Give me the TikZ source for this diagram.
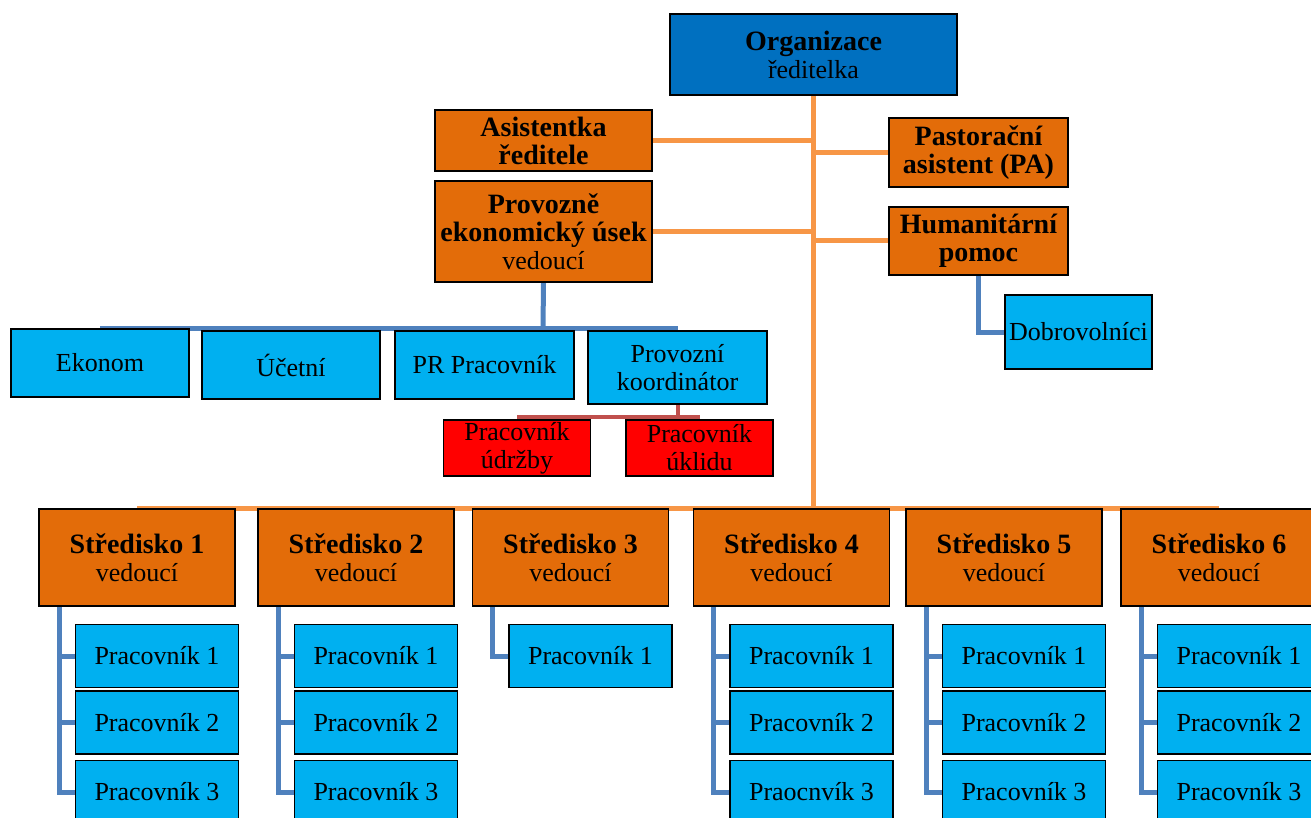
\documentclass[tikz,border=0pt]{standalone}
\usepackage{fontspec}
\setmainfont{Liberation Serif}
\usetikzlibrary{calc}
\usetikzlibrary{positioning}
\usetikzlibrary{backgrounds}

\definecolor{dirblue}{HTML}{0070C0}
\definecolor{headorange}{HTML}{E36C09}
\definecolor{linkorange}{HTML}{F79646}
\definecolor{staffblue}{HTML}{00B0F0}
\definecolor{linkblue}{HTML}{4F81BD}
\definecolor{linkred}{HTML}{C0504D}

\newcommand{\ttl}[1]{{\fontsize{14}{14}\selectfont\bfseries #1}}

\tikzset{
  unit/.style={draw=black, line width=0.6pt, align=center, inner sep=0pt,
    font=\fontsize{13}{14}\selectfont},
  topbox/.style={unit, fill=dirblue, minimum width=143.5pt, minimum height=40.5pt},
  headbox/.style={unit, fill=headorange, minimum width=108.5pt},
  sidebox/.style={unit, fill=headorange, minimum width=89.5pt},
  staffbox/.style={unit, fill=staffblue, minimum width=89pt, minimum height=34pt},
  redbox/.style={unit, fill=red, minimum width=73.5pt, minimum height=28pt},
  centrebox/.style={unit, fill=headorange, minimum width=98pt, minimum height=48.5pt},
  workerbox/.style={unit, fill=staffblue, minimum width=81.5pt, minimum height=31.5pt},
  orangelink/.style={draw=linkorange, line width=2.5pt},
  bluelink/.style={draw=linkblue, line width=2.5pt},
  redlink/.style={draw=linkred, line width=2pt}
}

\begin{document}
\begin{tikzpicture}[x=0.5pt, y=-0.5pt]
  \useasboundingbox (0,0) rectangle (1311,818);

  % vedeni
  \node[topbox] (org) at (813.5,54.5) {\ttl{Organizace}\\ ředitelka};
  \node[headbox, minimum height=30.5pt] (asist) at (543.5,140.5) {\ttl{Asistentka}\\ \ttl{ředitele}};
  \node[headbox, minimum height=50.5pt] (provoz) at (543.5,231.5) {\ttl{Provozně}\\ \ttl{ekonomický úsek}\\ vedoucí};
  \node[sidebox, minimum height=34.5pt] (pasto) at (978.5,152.5) {\ttl{Pastorační}\\ \ttl{asistent (PA)}};
  \node[sidebox, minimum height=34pt] (human) at (978.5,241) {\ttl{Humanitární}\\ \ttl{pomoc}};
  \node[staffbox, minimum width=73.5pt, minimum height=37pt] (dobro) at (1078.5,332) {Dobrovolníci};

  % provozne ekonomicky usek
  \node[staffbox] (ekonom) at (100,363) {Ekonom};
  \node[staffbox] (ucetni) at (291,365) {Účetní};
  \node[staffbox, minimum width=89.5pt] (prprac) at (484.5,365) {PR Pracovník};
  \node[staffbox, minimum width=89.5pt, minimum height=36.5pt] (koord) at (677.5,367.5) {Provozní\\ koordinátor};
  \node[redbox] (udrzba) at (517,448) {Pracovník\\ údržby};
  \node[redbox] (uklid) at (699.5,448) {Pracovník\\ úklidu};

  % strediska
  \foreach \n/\cx in {1/137, 2/356, 3/570.5, 4/791.5, 5/1004, 6/1219} {
    \node[centrebox] (s\n) at (\cx,557.5) {\ttl{Středisko \n}\\ vedoucí};
    \node[workerbox] (p\n-1) at (\cx+20,656) {Pracovník 1};
  }
  \foreach \n/\cx/\lastname in {1/137/Pracovník, 2/356/Pracovník, 4/791.5/Praocnvík,
                                5/1004/Pracovník, 6/1219/Pracovník} {
    \node[workerbox] (p\n-2) at (\cx+20,722.5) {Pracovník 2};
    \node[workerbox] (p\n-3) at (\cx+20,792) {\lastname{} 3};
  }

  \begin{scope}[on background layer]
    % hlavni vetev
    \coordinate (trunk) at (813.5,508);
    \draw[orangelink] (org.south) -- (trunk);
    \draw[orangelink] (asist.east) -- (asist.east -| org.south);
    \draw[orangelink] (provoz.east) -- (provoz.east -| org.south);
    \draw[orangelink] (pasto.west) -- (pasto.west -| org.south);
    \draw[orangelink] (human.west) -- (human.west -| org.south);
    \draw[orangelink] (s1.north |- trunk) -- (s6.north |- trunk);

    \coordinate (pbar) at (543,328);
    \draw[bluelink] (provoz.south) -- (pbar);
    \draw[bluelink] (ekonom.north |- pbar) -- (koord.north |- pbar);
    \draw[bluelink] (human.south) |- (dobro.west);

    \coordinate (kbar) at (678,417);
    \draw[redlink] (koord.south -| kbar) -- (kbar);
    \draw[redlink] (udrzba.north |- kbar) -- (uklid.north |- kbar);

    \draw[bluelink] ($(s3.south west)+(21,0)$) |- (p3-1.west);
    \foreach \n in {1,2,4,5,6} {
      \draw[bluelink] ($(s\n.south west)+(21,0)$) |- (p\n-3.west);
      \draw[bluelink] ($(s\n.south west)+(21,0)$) |- (p\n-1.west);
      \draw[bluelink] ($(s\n.south west)+(21,0)$) |- (p\n-2.west);
    }
  \end{scope}
\end{tikzpicture}
\end{document}
